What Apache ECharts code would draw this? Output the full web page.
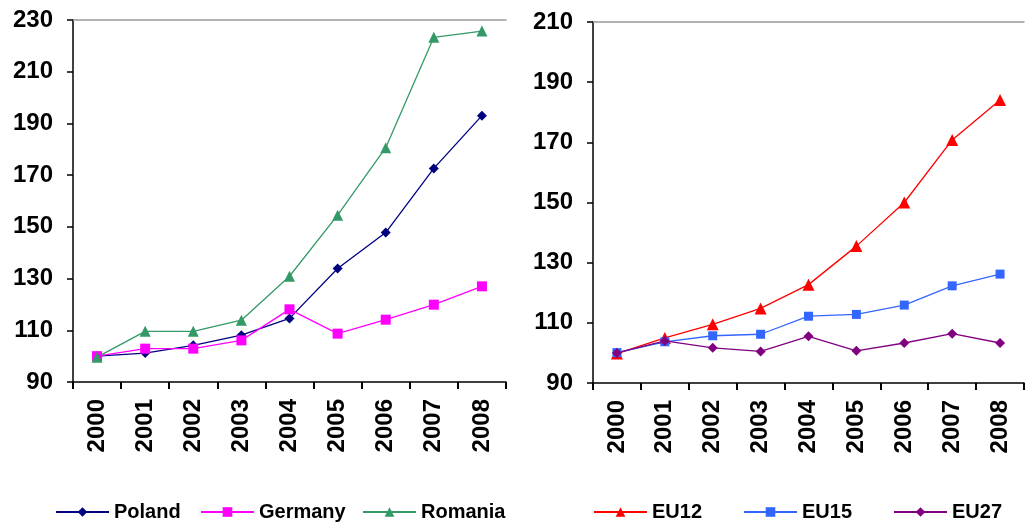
<!DOCTYPE html>
<html><head><meta charset="utf-8">
<script src="https://cdn.jsdelivr.net/npm/echarts@6/dist/echarts.min.js"></script>
<style>html,body{margin:0;padding:0;background:#fff}#c{width:1025px;height:522px}</style>
</head><body><div id="c"></div>
<script>
const years = ['2000','2001','2002','2003','2004','2005','2006','2007','2008'];
const poland  = [100, 101.2, 104.2, 108.1, 114.6, 133.9, 147.8, 172.6, 193.0];
const germany = [100, 102.9, 102.9, 106.1, 118.1, 108.7, 114.1, 119.9, 127.0];
const romania = [99.6, 109.6, 109.6, 113.9, 130.9, 154.5, 180.6, 223.3, 225.7];
const eu12 = [99.8, 105.0, 109.5, 114.8, 122.7, 135.5, 150.0, 170.8, 184.1];
const eu15 = [100.1, 103.7, 105.7, 106.2, 112.2, 112.8, 115.9, 122.3, 126.2];
const eu27 = [100.0, 104.0, 101.7, 100.5, 105.5, 100.7, 103.3, 106.4, 103.3];
const leftTicks = {min: 90, max: 230, interval: 20};
const rightTicks = {min: 90, max: 210, interval: 20};

const FONT = 'Liberation Sans, Arial, sans-serif';

function xAxisBottom(gi){
  return {type:'category', gridIndex:gi, data:years, boundaryGap:true, position:'bottom',
    axisLine:{lineStyle:{color:'#000', width:1.5}},
    axisTick:{show:true, length:7, lineStyle:{color:'#000', width:2}},
    axisLabel:{rotate:90, margin:17, fontSize:24, fontWeight:'bold', color:'#000', fontFamily:FONT, interval:0},
    splitLine:{show:false}};
}
function xAxisTop(gi){
  return {type:'category', gridIndex:gi, data:years, position:'top',
    axisLine:{lineStyle:{color:'#999', width:1.5}}, axisTick:{show:false}, axisLabel:{show:false}, splitLine:{show:false}};
}
function yAxis(gi, t){
  return {type:'value', gridIndex:gi, min:t.min, max:t.max, interval:t.interval,
    axisLine:{show:true, lineStyle:{color:'#000', width:1.5}},
    axisTick:{show:true, inside:false, length:6, lineStyle:{color:'#000', width:1.5}},
    axisLabel:{margin:20, fontSize:24, fontWeight:'bold', color:'#000', fontFamily:FONT},
    splitLine:{show:false}};
}
function ser(name, data, gi, color, symbol, size){
  return {name, type:'line', xAxisIndex:gi*2, yAxisIndex:gi, data, symbol, symbolSize:size,
    lineStyle:{color, width:1.3}, itemStyle:{color}, animation:false};
}
function leg(name, left){
  return {data:[name], left, top:500, padding:0, itemWidth:53, itemHeight:12, itemGap:0,
    textStyle:{fontSize:20, fontWeight:'bold', color:'#000', fontFamily:FONT, lineHeight:24}};
}

const chart = echarts.init(document.getElementById('c'));
chart.setOption({
  backgroundColor:'#fff',
  animation:false,
  grid:[{left:73, right:519, top:20, bottom:140},{left:593, right:1, top:22, bottom:139}],
  xAxis:[xAxisBottom(0), xAxisTop(0), xAxisBottom(1), xAxisTop(1)],
  yAxis:[yAxis(0,leftTicks), yAxis(1,rightTicks)],
  legend:[leg('Poland',55), leg('Germany',200), leg('Romania',362),
          leg('EU12',593), leg('EU15',743), leg('EU27',893)],
  series:[
    ser('Poland', poland, 0, '#000080', 'diamond', 10),
    ser('Germany', germany, 0, '#FF00FF', 'rect', 10),
    ser('Romania', romania, 0, '#339966', 'triangle', 11),
    ser('EU12', eu12, 1, '#FF0000', 'triangle', 12),
    ser('EU15', eu15, 1, '#3366FF', 'rect', 9),
    ser('EU27', eu27, 1, '#800080', 'diamond', 10)
  ]
});
</script></body></html>
